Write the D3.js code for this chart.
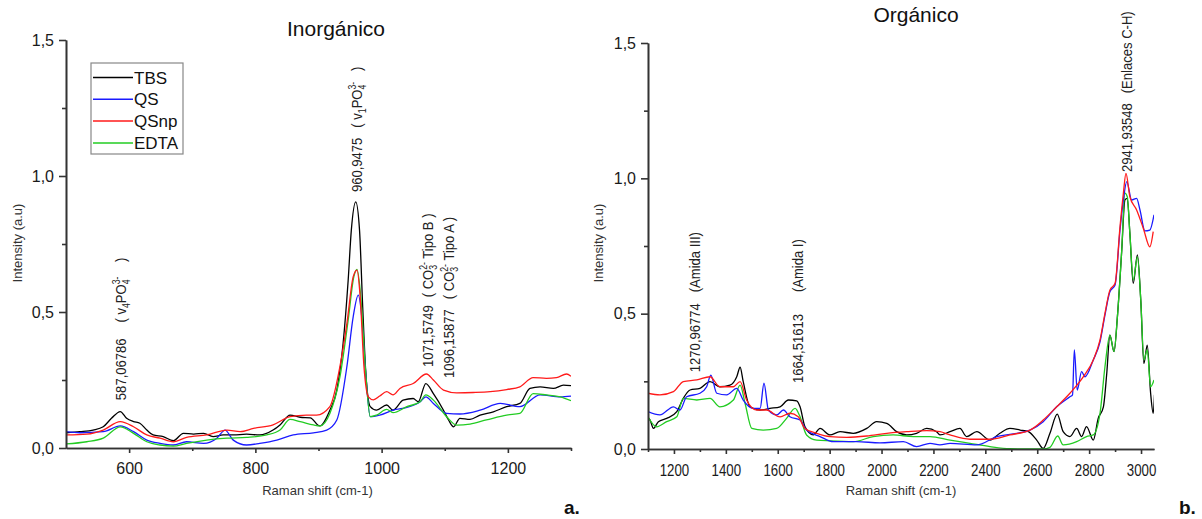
<!DOCTYPE html>
<html lang="es">

<head>
    <meta charset="utf-8">
    <title>Raman - Inorgánico / Orgánico</title>

    <style type="text/css">
        body {
            margin: 0;
            background-color: white;
        }
        svg {
            font-family: "Liberation Sans", Arial, sans-serif;
        }
        .axis path, .axis line {
            stroke: #333;
            stroke-width: 1.6;
        }
        .axis text {
            fill: #1a1a1a;
            font-size: 16px;
        }
    </style>

    <script type="text/javascript" src="https://cdn.jsdelivr.net/npm/d3@7"></script>
</head>

<body>
    <script type="text/javascript">
        var w = 1202
        var h = 519

        var seriesNames = ["TBS", "QS", "QSnp", "EDTA"];
        var seriesColors = ["#000000", "#1a1aff", "#ff1a1a", "#22cc22"];

        // Inorgánico: [Raman shift, intensidad]
        var inorgTBS = [[500,0.056],[522,0.06],[543,0.066],[559,0.078],[572,0.109],[586,0.134],[596,0.109],[607,0.097],[617,0.091],[628,0.066],[638,0.048],[654,0.042],[670,0.027],[686,0.054],[702,0.051],[718,0.054],[733,0.042],[749,0.048],[765,0.048],[786,0.051],[807,0.048],[828,0.066],[839,0.085],[855,0.121],[871,0.113],[887,0.111],[902,0.081],[918,0.139],[929,0.213],[939,0.385],[947,0.617],[952,0.801],[959,0.905],[965,0.801],[970,0.519],[975,0.274],[982,0.152],[992,0.139],[1008,0.158],[1018,0.139],[1034,0.176],[1050,0.182],[1058,0.17],[1070,0.237],[1082,0.2],[1098,0.139],[1106,0.103],[1114,0.078],[1124,0.109],[1140,0.105],[1156,0.121],[1177,0.133],[1198,0.152],[1219,0.164],[1235,0.219],[1251,0.225],[1272,0.219],[1288,0.231],[1300,0.229]];
        var inorgQS = [[500,0.06],[522,0.056],[559,0.06],[586,0.081],[607,0.06],[628,0.029],[649,0.017],[670,0.011],[691,0.023],[718,0.017],[739,0.036],[752,0.066],[765,0.029],[786,0.011],[807,0.017],[834,0.029],[860,0.048],[892,0.056],[913,0.066],[929,0.103],[945,0.3],[955,0.483],[963,0.562],[968,0.495],[974,0.3],[982,0.115],[997,0.121],[1018,0.139],[1040,0.149],[1061,0.17],[1070,0.188],[1082,0.164],[1103,0.127],[1124,0.125],[1156,0.139],[1188,0.164],[1219,0.152],[1251,0.195],[1283,0.188],[1300,0.191]];
        var inorgQSnp = [[500,0.048],[533,0.051],[559,0.066],[586,0.097],[607,0.078],[628,0.048],[649,0.036],[670,0.023],[691,0.039],[723,0.048],[755,0.066],[776,0.06],[797,0.072],[828,0.085],[855,0.115],[881,0.121],[897,0.121],[918,0.152],[934,0.3],[945,0.458],[955,0.63],[961,0.654],[966,0.556],[972,0.3],[979,0.188],[987,0.177],[997,0.191],[1008,0.207],[1018,0.195],[1029,0.219],[1050,0.237],[1071,0.272],[1082,0.25],[1098,0.213],[1119,0.203],[1145,0.204],[1172,0.207],[1198,0.215],[1219,0.225],[1240,0.259],[1261,0.256],[1277,0.259],[1293,0.272],[1300,0.264]];
        var inorgEDTA = [[500,0.015],[533,0.023],[559,0.036],[586,0.078],[607,0.054],[628,0.023],[649,0.011],[670,0.007],[691,0.017],[723,0.029],[755,0.036],[786,0.039],[818,0.048],[839,0.066],[855,0.105],[871,0.097],[892,0.085],[902,0.081],[918,0.127],[934,0.262],[947,0.47],[956,0.63],[961,0.657],[967,0.556],[974,0.3],[982,0.115],[992,0.121],[1008,0.142],[1018,0.13],[1040,0.152],[1061,0.17],[1070,0.195],[1082,0.176],[1103,0.115],[1119,0.084],[1140,0.088],[1166,0.103],[1198,0.121],[1219,0.127],[1240,0.2],[1261,0.195],[1283,0.188],[1300,0.174]];

        // Orgánico
        var orgTBS = [[1100,0.115],[1108,0.107],[1121,0.076],[1140,0.101],[1172,0.113],[1211,0.138],[1236,0.187],[1262,0.218],[1300,0.224],[1339,0.249],[1377,0.23],[1416,0.236],[1442,0.267],[1455,0.302],[1467,0.249],[1493,0.156],[1532,0.144],[1570,0.15],[1609,0.156],[1641,0.181],[1673,0.178],[1686,0.156],[1705,0.082],[1737,0.052],[1763,0.076],[1801,0.052],[1840,0.064],[1891,0.058],[1943,0.076],[1981,0.101],[2020,0.095],[2058,0.064],[2097,0.052],[2135,0.058],[2174,0.076],[2212,0.064],[2225,0.052],[2264,0.064],[2302,0.076],[2328,0.046],[2367,0.064],[2418,0.033],[2456,0.058],[2495,0.076],[2534,0.07],[2566,0.064],[2598,0.033],[2623,0.002],[2649,0.058],[2677,0.129],[2700,0.064],[2726,0.046],[2752,0.076],[2771,0.046],[2790,0.083],[2816,0.033],[2835,0.113],[2855,0.156],[2868,0.28],[2880,0.421],[2896,0.36],[2909,0.489],[2925,0.723],[2938,0.92],[2947,0.926],[2957,0.797],[2970,0.612],[2986,0.717],[2999,0.55],[3011,0.316],[3024,0.384],[3037,0.206],[3047,0.132],[3052,0.2]];
        var orgQS = [[1100,0.138],[1146,0.126],[1198,0.156],[1223,0.144],[1249,0.193],[1300,0.206],[1326,0.23],[1342,0.273],[1365,0.206],[1403,0.2],[1442,0.224],[1467,0.181],[1506,0.15],[1532,0.15],[1547,0.243],[1564,0.144],[1596,0.126],[1622,0.144],[1647,0.119],[1686,0.107],[1711,0.07],[1763,0.046],[1814,0.027],[1904,0.027],[1994,0.023],[2084,0.027],[2135,0.009],[2187,0.021],[2225,0.015],[2264,0.021],[2367,0.015],[2444,0.046],[2521,0.058],[2572,0.07],[2623,0.101],[2675,0.156],[2726,0.193],[2736,0.2],[2743,0.366],[2754,0.218],[2771,0.286],[2784,0.267],[2816,0.329],[2842,0.396],[2861,0.495],[2880,0.581],[2900,0.606],[2919,0.809],[2932,0.92],[2945,0.988],[2964,0.92],[2983,0.926],[2996,0.883],[3015,0.806],[3034,0.809],[3050,0.865]];
        var orgQSnp = [[1100,0.206],[1146,0.2],[1198,0.212],[1236,0.249],[1288,0.255],[1339,0.267],[1377,0.23],[1429,0.23],[1455,0.249],[1480,0.181],[1519,0.144],[1557,0.144],[1609,0.119],[1647,0.132],[1679,0.119],[1705,0.076],[1750,0.058],[1801,0.046],[1866,0.043],[1943,0.048],[2020,0.058],[2097,0.064],[2174,0.068],[2225,0.064],[2264,0.052],[2341,0.036],[2418,0.036],[2495,0.052],[2572,0.07],[2623,0.107],[2675,0.156],[2726,0.206],[2778,0.267],[2816,0.329],[2842,0.403],[2861,0.501],[2880,0.587],[2900,0.612],[2919,0.821],[2932,0.945],[2942,1.018],[2957,0.932],[2983,0.883],[3009,0.815],[3034,0.747],[3047,0.803]];
        var orgEDTA = [[1100,0.119],[1133,0.082],[1172,0.101],[1211,0.119],[1236,0.187],[1288,0.181],[1339,0.187],[1377,0.156],[1429,0.181],[1455,0.236],[1474,0.169],[1500,0.076],[1544,0.07],[1596,0.076],[1634,0.113],[1667,0.15],[1686,0.119],[1711,0.052],[1750,0.033],[1801,0.03],[1891,0.027],[1968,0.046],[2045,0.052],[2122,0.046],[2187,0.046],[2264,0.033],[2341,0.021],[2418,0.009],[2495,0.001],[2572,0.0],[2623,0.0],[2649,0.006],[2679,0.048],[2700,0.015],[2752,0.027],[2790,0.046],[2816,0.052],[2842,0.132],[2861,0.304],[2880,0.421],[2896,0.36],[2909,0.489],[2925,0.723],[2938,0.945],[2947,0.932],[2957,0.797],[2970,0.624],[2986,0.71],[2999,0.55],[3011,0.329],[3024,0.366],[3037,0.23],[3050,0.255]];

        // ticks
        var yMajor = [0, 0.5, 1.0, 1.5];
        var yMinor = [0.25, 0.75, 1.25];
        var inorgXMajor = [600, 800, 1000, 1200];
        var inorgXMinor = [700, 900, 1100, 1300];
        var orgXMajor = [1200, 1400, 1600, 1800, 2000, 2200, 2400, 2600, 2800, 3000];
        var orgXMinor = [1100, 1300, 1500, 1700, 1900, 2100, 2300, 2500, 2700, 2900];

        // bandas anotadas: posición, intensidad de anclaje, etiqueta, nota
        var inorgPeakX = [587.06786, 960.9475, 1071.5749, 1096.15877];
        var inorgPeakY = [0.176, 0.941, 0.298, 0.257];
        var inorgPeakLabel = ["587,06786", "960,9475", "1071,5749", "1096,15877"];
        var inorgPeakNote = [
            [["( v", ""], ["4", "sub"], ["PO", ""], ["4", "sub"], ["3-", "supb"], ["    )", ""]],
            [["( v", ""], ["1", "sub"], ["PO", ""], ["4", "sub"], ["3-", "supb"], ["   )", ""]],
            [["( CO", ""], ["3", "sub"], ["2-", "supb"], [" Tipo B )", ""]],
            [["( CO", ""], ["3", "sub"], ["2-", "supb"], [" Tipo A )", ""]]
        ];
        var orgPeakX = [1270.96774, 1664.51613, 2941.93548];
        var orgPeakY = [0.284, 0.244, 1.023];
        var orgPeakLabel = ["1270,96774", "1664,51613", "2941,93548"];
        var orgPeakNote = [[["(Amida III)", ""]], [["(Amida I)", ""]], [["(Enlaces C-H)", ""]]];

        var svg = d3.select("body")
                    .append("svg")
                    .attr("width", w)
                    .attr("height", h);

        var fmtY = function (d) { return d3.format(".1f")(d).replace(".", ","); };

        function drawPanel(p) {
            var x = d3.scaleLinear().domain(p.xDomain).range(p.xRange);
            var y = d3.scaleLinear().domain([0, 1.5]).range(p.yRange);
            var g = svg.append("g");

            g.append("clipPath").attr("id", p.id + "clip")
                .append("rect")
                .attr("x", p.xRange[0]).attr("y", p.yRange[1])
                .attr("width", p.xRange[1] - p.xRange[0])
                .attr("height", p.yRange[0] - p.yRange[1]);

            var line = d3.line()
                .x(function (d) { return x(d[0]); })
                .y(function (d) { return y(d[1]); })
                .curve(d3.curveMonotoneX);

            var lines = g.append("g").attr("clip-path", "url(#" + p.id + "clip)");
            p.order.forEach(function (i) {
                lines.append("path")
                    .attr("d", line(p.series[i]))
                    .attr("fill", "none")
                    .attr("stroke", seriesColors[i])
                    .attr("stroke-width", 1.3)
                    .attr("stroke-linejoin", "round");
            });

            // minor ticks
            g.append("g").attr("class", "axis")
                .attr("transform", "translate(0," + p.yRange[0] + ")")
                .call(d3.axisBottom(x).tickValues(p.xMinor).tickSize(3).tickSizeOuter(0).tickFormat(""));
            g.append("g").attr("class", "axis")
                .attr("transform", "translate(" + p.xRange[0] + ",0)")
                .call(d3.axisLeft(y).tickValues(yMinor).tickSize(4).tickSizeOuter(0).tickFormat(""));

            var xAxis = g.append("g").attr("class", "axis")
                .attr("transform", "translate(0," + p.yRange[0] + ")")
                .call(d3.axisBottom(x).tickValues(p.xMajor).tickSize(5).tickPadding(p.xPad)
                    .tickSizeOuter(0).tickFormat(d3.format("d")));
            if (p.xSquash) {
                xAxis.selectAll("text").attr("transform", "scale(" + p.xSquash + ",1)");
            }
            g.append("g").attr("class", "axis")
                .attr("transform", "translate(" + p.xRange[0] + ",0)")
                .call(d3.axisLeft(y).tickValues(yMajor).tickSize(7).tickPadding(5)
                    .tickSizeOuter(0).tickFormat(fmtY));

            g.append("text")
                .attr("x", p.titleX).attr("y", p.titleY)
                .attr("text-anchor", "middle")
                .style("font-size", "21px")
                .attr("fill", "#111")
                .text(p.title);

            g.append("text")
                .attr("transform", "translate(" + p.yLabelX + ",243) rotate(-90)")
                .attr("text-anchor", "middle")
                .style("font-size", "13px")
                .attr("fill", "#333")
                .text("Intensity (a.u)");

            g.append("text")
                .attr("x", (p.xRange[0] + p.xRange[1]) / 2 + p.xLabelDx).attr("y", 495)
                .attr("text-anchor", "middle")
                .style("font-size", "13px")
                .attr("fill", "#333")
                .text("Raman shift (cm-1)");

            g.append("text")
                .attr("x", p.tagX).attr("y", 514)
                .style("font-size", "19px")
                .style("font-weight", "bold")
                .attr("fill", "#111")
                .text(p.tag);

            // anotaciones verticales
            p.peakX.forEach(function (px, k) {
                var t = g.append("text")
                    .attr("transform", "translate(" + (x(px) + 5.5 + p.peakDx[k]) + "," + y(p.peakY[k]) + ") rotate(-90) scale(0.87,1)")
                    .attr("xml:space", "preserve")
                    .style("white-space", "pre")
                    .style("font-size", "15px")
                    .attr("fill", "#222");
                t.append("tspan").text(p.peakLabel[k]);
                var shift = 0;
                p.peakNote[k].forEach(function (part, j) {
                    var s = part[1] === "sub" ? 4 : (part[1] === "" ? 0 : -6);
                    var ts = t.append("tspan").attr("dy", s - shift).text(part[0]);
                    if (j === 0) ts.attr("dx", p.peakGap[k] / 0.87);
                    if (part[1] !== "") ts.style("font-size", "10px");
                    if (part[1] === "supb") ts.attr("dx", -5.6);
                    shift = s;
                });
            });

            return g;
        }

        var left = drawPanel({
            id: "inorg",
            xDomain: [500, 1300], xRange: [66, 571], yRange: [448, 40],
            series: [inorgTBS, inorgQS, inorgQSnp, inorgEDTA],
            order: [0, 1, 3, 2],
            xMajor: inorgXMajor, xMinor: inorgXMinor, xPad: 10,
            title: "Inorgánico", titleX: 336, titleY: 36,
            yLabelX: 22, xLabelDx: -1, tag: "a.", tagX: 564,
            peakX: inorgPeakX, peakY: inorgPeakY, peakLabel: inorgPeakLabel, peakNote: inorgPeakNote,
            peakGap: [16, 10, 8, 10], peakDx: [0, 0, 1, 6]
        });

        drawPanel({
            id: "org",
            xDomain: [1100, 3050], xRange: [648, 1154], yRange: [449, 43],
            series: [orgTBS, orgQS, orgQSnp, orgEDTA],
            order: [0, 3, 1, 2],
            xMajor: orgXMajor, xMinor: orgXMinor, xPad: 11, xSquash: 0.83,
            title: "Orgánico", titleX: 916, titleY: 22,
            yLabelX: 603, xLabelDx: 0, tag: "b.", tagX: 1179,
            peakX: orgPeakX, peakY: orgPeakY, peakLabel: orgPeakLabel, peakNote: orgPeakNote,
            peakGap: [11, 22, 10], peakDx: [2, 3, 1]
        });

        // leyenda
        var legend = left.append("g");
        legend.append("rect")
            .attr("x", 91).attr("y", 63)
            .attr("width", 92).attr("height", 91)
            .attr("fill", "white")
            .attr("stroke", "#888")
            .attr("stroke-width", 1.2);
        seriesNames.forEach(function (name, i) {
            var ly = 77.5 + i * 21.8;
            legend.append("line")
                .attr("x1", 93).attr("x2", 133)
                .attr("y1", ly).attr("y2", ly)
                .attr("stroke", seriesColors[i])
                .attr("stroke-width", 1.5);
            legend.append("text")
                .attr("x", 134).attr("y", ly + 6)
                .style("font-size", "17px")
                .attr("fill", "#111")
                .text(name);
        });
    </script>
</body>

</html>
